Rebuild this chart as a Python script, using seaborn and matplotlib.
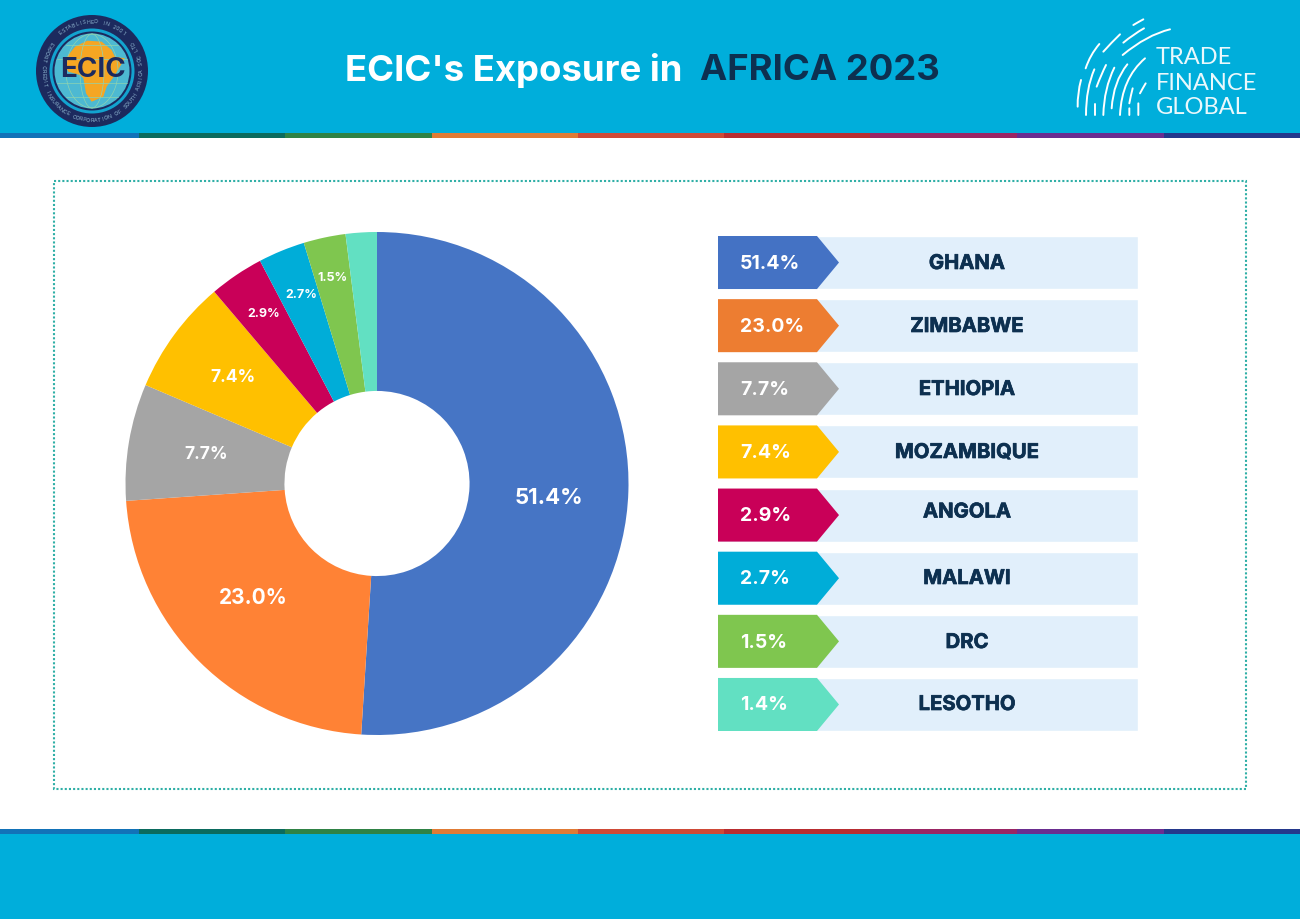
import numpy as np
import matplotlib
matplotlib.use("Agg")
import matplotlib.pyplot as plt
import matplotlib.patheffects as pe
from matplotlib.patches import Circle, Polygon, PathPatch, Rectangle
from matplotlib.path import Path
import seaborn as sns

sns.set_theme(style="white")
plt.rcParams['font.family'] = ['Inter', 'DejaVu Sans']

# --- DATA ---
countries = ['GHANA', 'ZIMBABWE', 'ETHIOPIA', 'MOZAMBIQUE', 'ANGOLA', 'MALAWI', 'DRC', 'LESOTHO']
pct_labels = ['51.4%', '23.0%', '7.7%', '7.4%', '2.9%', '2.7%', '1.5%', '1.4%']
# slice sizes as drawn in the picture (they differ a bit from the printed labels)
slice_shares = [51.0, 22.9, 7.5, 7.4, 3.5, 3.0, 2.7, 2.0]
row_span = [1, 1, 1, 1, 1, 1, 1, 1]
pie_colors = ['#4675C5', '#FF8235', '#A5A5A5', '#FFC000', '#C90058', '#00ADD8', '#7FC64F', '#62E0C2']
tag_colors = ['#4472C4', '#ED7D31', '#A5A5A5', '#FFC000', '#C90058', '#00ADD8', '#7FC64F', '#62E0C2']
stripe_colors = ['#1272B8', '#0B6B5E', '#2F8245', '#E07B35', '#CF4A37', '#B92D30', '#9B2563', '#6A2D90', '#24388C']

BLUE = '#00AEDB'
NAVY = '#0D3050'
W, H = 1300, 919

fig = plt.figure(figsize=(13, 9.19), dpi=100, facecolor='white')

# fondo en pixeles
bg = fig.add_axes([0, 0, 1, 1], zorder=0)
bg.set_xlim(0, W)
bg.set_ylim(H, 0)
bg.axis('off')

bg.add_patch(Rectangle((0, 0), W, 134, color=BLUE, lw=0))
bg.add_patch(Rectangle((0, 833), W, 86, color=BLUE, lw=0))
stripe_edges = [0, 139, 285, 432, 578, 724, 870, 1017, 1164, 1300]
for i, c in enumerate(stripe_colors):
    w = stripe_edges[i + 1] - stripe_edges[i]
    bg.add_patch(Rectangle((stripe_edges[i], 133), w, 5, color=c, lw=0))
    bg.add_patch(Rectangle((stripe_edges[i], 829), w, 5, color=c, lw=0))

# marco punteado
bg.add_patch(Rectangle((53.5, 180.5), 1192.5, 608.5, fill=False, ec='#2FAFA6', lw=1.5,
                       ls=(0, (1, 1))))

# titulo
bg.text(345, 70, "ECIC's Exposure in", color='white', fontsize=26.3, fontweight='bold',
        ha='left', va='center')
bg.text(700, 70, "AFRICA 2023", color=NAVY, fontsize=26.3, fontweight='bold',
        ha='left', va='center')

# logo ECIC
cx, cy = 92, 71
RING = '#1C2A5E'
bg.add_patch(Circle((cx, cy), 56, color=RING, lw=0))
bg.add_patch(Circle((cx, cy), 42.5, color='#12A3CF', lw=0))
bg.add_patch(Circle((cx, cy), 39.5, color=RING, lw=0))
bg.add_patch(Circle((cx, cy), 37.5, color='#4DB9D2', lw=0))
# meridianos del globo
for off in [12, 26]:
    for s in [-1, 1]:
        th = np.linspace(-np.pi / 2, np.pi / 2, 30)
        bg.plot(cx + s * off * np.cos(th), cy + 37 * np.sin(th), color='#8FD3B0', lw=0.5)
        bg.plot(cx + 37 * np.sin(th) * np.sqrt(1 - (off / 37) ** 2), np.full(30, cy + s * off),
                color='#8FD3B0', lw=0.5)
africa = np.array([(205, 165), (225, 140), (262, 122), (305, 125), (335, 150), (345, 170), (375, 175),
                   (345, 225), (320, 260), (310, 290), (275, 305), (258, 280), (250, 235), (240, 225),
                   (205, 215), (190, 190)]) / 3
bg.add_patch(Polygon(africa, color='#F5A623', lw=0))
bg.text(cx + 0.5, 70, 'ECIC', color=RING, fontsize=20, fontweight='bold', ha='center', va='center')


def ring_text(txt, r, mid_deg, step_deg, top=True):
    n = len(txt)
    for i, ch in enumerate(txt):
        if top:
            a = np.deg2rad(mid_deg - (i - (n - 1) / 2) * step_deg)
            rot = np.rad2deg(a) - 90
        else:
            a = np.deg2rad(mid_deg + (i - (n - 1) / 2) * step_deg)
            rot = np.rad2deg(a) + 90
        bg.text(cx + r * np.cos(a), cy - r * np.sin(a), ch, color='#8FB6D0', fontsize=3.8,
                rotation=rot, rotation_mode='anchor', ha='center', va='center')


ring_text('ESTABLISHED IN 2001', 49, 90, 4.4, top=True)
ring_text('EXPORT CREDIT INSURANCE CORPORATION OF SOUTH AFRICA SOC LTD', 49.5, 270, 4.3, top=False)

# logo Trade Finance Global
tfg_lines = [
    [(430, 58), (415, 66), (400, 75)],
    [(432, 85), (400, 103), (370, 128)],
    [(510, 88), (440, 105), (368, 165)],
    [(360, 103), (335, 127), (310, 155)],
    [(298, 132), (270, 165), (257, 205)],
    [(435, 175), (365, 235), (360, 345)],
    [(382, 193), (340, 245), (335, 325)],
    [(343, 203), (312, 265), (310, 345)],
    [(318, 195), (303, 225), (290, 260)],
    [(283, 208), (258, 265), (258, 345)],
    [(243, 240), (232, 280), (233, 320)],
    [(285, 312), (285, 330), (285, 345)],
    [(398, 265), (392, 288), (388, 310)],
    [(388, 325), (388, 335), (388, 345)],
    [(437, 250), (428, 265), (420, 280)],
    [(415, 310), (415, 330), (415, 345)],
]
for pts in tfg_lines:
    pts = [(1000 + x / 3, y / 3) for x, y in pts]
    p = Path(pts, [Path.MOVETO, Path.CURVE3, Path.CURVE3])
    bg.add_patch(PathPatch(p, fill=False, ec='white', lw=1.4, capstyle='round'))
for txt, y in zip(['TRADE', 'FINANCE', 'GLOBAL'], [58, 83, 107.5]):
    bg.text(1155.5, y, txt, color='#EAF8FC', fontsize=17, family='Lato', ha='left', va='center')

# --- DONA ---
ax_pie = fig.add_axes([125.5 / W, 1 - 735 / H, 503 / W, 503 / H], zorder=1)
wedges, _ = ax_pie.pie(slice_shares, colors=pie_colors, startangle=90, counterclock=False, radius=1,
                       wedgeprops={'width': 0.632, 'linewidth': 0})
ax_pie.set_xlim(-1, 1)
ax_pie.set_ylim(-1, 1)

# etiquetas de la dona (LESOTHO no lleva)
pie_label_xy = [(549, 498), (253, 598), (206, 454.5), (233, 378), (264, 314), (301, 295), (332, 278)]
pie_label_size = [16, 15, 12.5, 12.5, 9, 9, 9]
top = fig.add_axes([0, 0, 1, 1], zorder=3)
top.set_xlim(0, W)
top.set_ylim(H, 0)
top.axis('off')
for lab, xy, fs in zip(pct_labels, pie_label_xy, pie_label_size):
    top.text(xy[0], xy[1], lab, color='white', fontsize=fs, fontweight='bold', ha='center', va='center')

# --- FILAS DE LA LEYENDA ---
ax_rows = fig.add_axes([718 / W, 1 - 731 / H, 420 / W, 495 / H], zorder=1)
sns.barplot(x=row_span, y=countries, color='#E1EFFB', saturation=1, width=0.84, ax=ax_rows, orient='h')
ax_rows.set_xlim(0, 1)
ax_rows.set_ylim(7.42, -0.42)
ax_rows.axis('off')

body = 99 / 420
tip = 121 / 420
for i, c in enumerate(tag_colors):
    ax_rows.add_patch(Polygon([(0, i - 0.42), (body, i - 0.42), (tip, i), (body, i + 0.42), (0, i + 0.42)],
                              color=c, lw=0, zorder=3))

row_y = [264, 327, 390, 453, 516, 579, 643, 705]
name_y = [264, 327, 390, 453, 512.5, 579, 643, 705]
for lab, name, y, ny in zip(pct_labels, countries, row_y, name_y):
    top.text(740, y, lab, color='white', fontsize=14, fontweight='bold', ha='left', va='center')
    top.text(967, ny, name, color=NAVY, fontsize=14.6, fontweight='bold', ha='center', va='center',
             path_effects=[pe.withStroke(linewidth=0.5, foreground=NAVY)])

fig.savefig('out.png', dpi=100, facecolor='white')
